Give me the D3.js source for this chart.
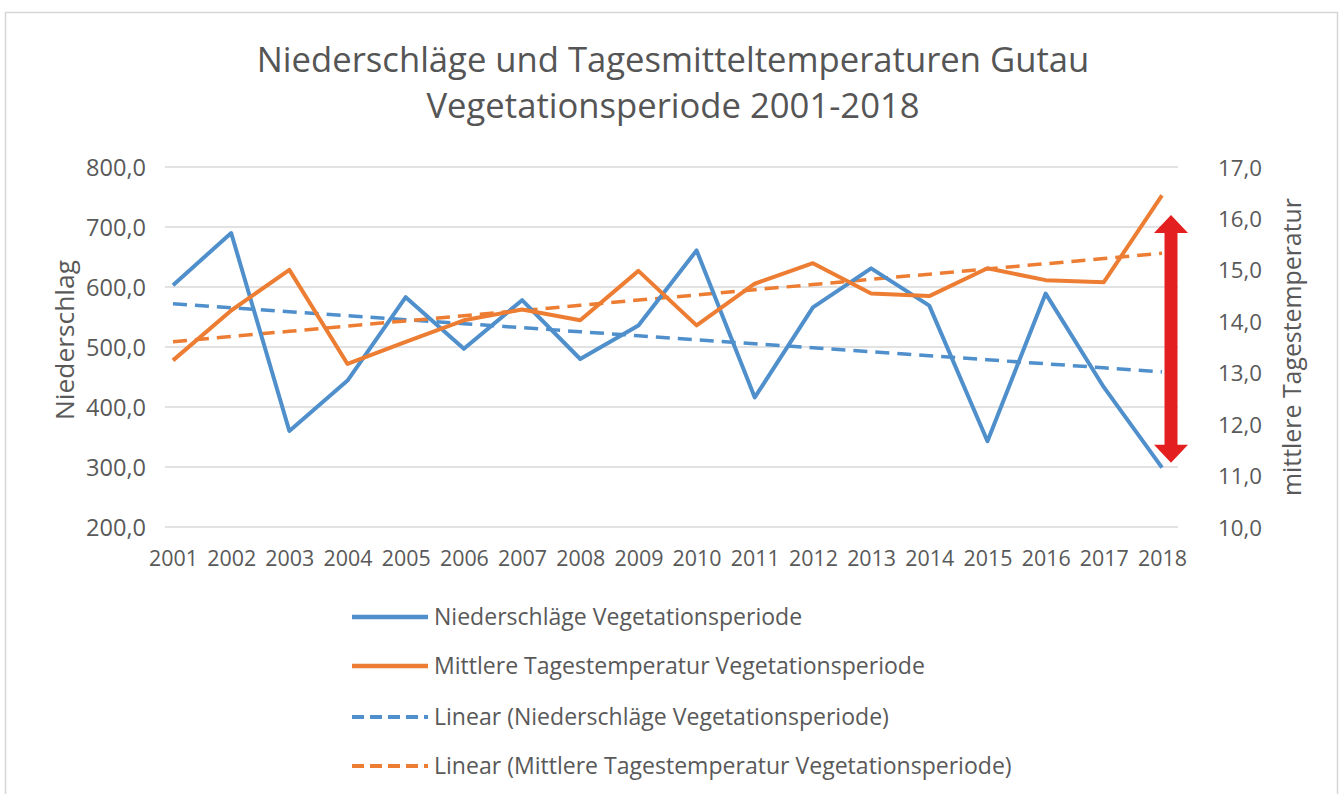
<!DOCTYPE html>
<html><head><meta charset="utf-8">
<script src="https://cdn.jsdelivr.net/npm/d3@7"></script>
<style>
html,body{margin:0;padding:0;background:#fff;}
svg{display:block;}
svg text{font-family:"Open Sans",Lato,sans-serif;}
</style></head>
<body><svg id="c" width="1343" height="794"></svg>
<script>
const years = ["2001","2002","2003","2004","2005","2006","2007","2008","2009","2010","2011","2012","2013","2014","2015","2016","2017","2018"];
const niederschlag = [603,690,360,444,583,497,578,480,536,661,416,566,631,569,343,589,433,299];
const temperatur = [13.24,14.21,15.0,13.17,13.6,14.02,14.23,14.02,14.98,13.92,14.73,15.13,14.54,14.49,15.03,14.8,14.76,16.45];
const leftTicks = [200,300,400,500,600,700,800];
const rightTicks = [10,11,12,13,14,15,16,17];
const titleLines = ["Niederschläge und Tagesmitteltemperaturen Gutau","Vegetationsperiode 2001-2018"];
const leftTitle = "Niederschlag";
const rightTitle = "mittlere Tagestemperatur";
const legendLabels = ["Niederschläge Vegetationsperiode","Mittlere Tagestemperatur Vegetationsperiode","Linear (Niederschläge Vegetationsperiode)","Linear (Mittlere Tagestemperatur Vegetationsperiode)"];
const arrowRange = [307, 720]; // annotation arrow in Niederschlag units

const BLUE="#4f8fcb", ORANGE="#ec7d33", GRID="#d9d9d9", TXT="#595959";
const svg = d3.select("#c");
const fmt = v => d3.format(".1f")(v).replace(".",",");

// size a text selection so that a reference element reaches the target width
function fit(sel, refNode, target){
  sel.style("font-size","20px");
  const w = refNode.getComputedTextLength();
  sel.style("font-size",(20*target/w)+"px");
}

svg.append("rect").attr("x",5.5).attr("y",12.5).attr("width",1332).attr("height",790)
  .attr("fill","#fff").attr("stroke","#d6d6d6").attr("stroke-width",1.5);

const x = d3.scalePoint().domain(years).range([173,1162]);
const yL = d3.scaleLinear().domain([200,800]).range([527,167]);
const yR = d3.scaleLinear().domain([10,17]).range([527,167]);

svg.append("g").selectAll("line").data(leftTicks).join("line")
  .attr("x1",165).attr("x2",1178).attr("y1",d=>yL(d)).attr("y2",d=>yL(d))
  .attr("stroke",GRID).attr("stroke-width",1.6);

const ga = d3.axisLeft(yL).tickValues(leftTicks).tickFormat(fmt).tickSize(0).tickPadding(0);
const gl = svg.append("g").attr("transform","translate(146,0)").call(ga);
gl.attr("font-family",null).attr("font-size",null);
gl.select(".domain").remove();
const glt = gl.selectAll("text").attr("fill",TXT).attr("dy","0.36em");
fit(glt, glt.nodes()[glt.size()-1], 60);

const ar = d3.axisRight(yR).tickValues(rightTicks).tickFormat(fmt).tickSize(0).tickPadding(0);
const gr = svg.append("g").attr("transform","translate(1218,0)").call(ar);
gr.attr("font-family",null).attr("font-size",null);
gr.select(".domain").remove();
const grt = gr.selectAll("text").attr("fill",TXT).attr("dy","0.36em");
fit(grt, grt.nodes()[grt.size()-1], 44);

const ab = d3.axisBottom(x).tickSize(0).tickPadding(0);
const gb = svg.append("g").attr("transform","translate(0,558)").call(ab);
gb.attr("font-family",null).attr("font-size",null);
gb.select(".domain").remove();
const gbt = gb.selectAll("text").attr("fill",TXT).attr("y",0).attr("dy","0.36em");
fit(gbt, gbt.nodes()[0], 49);

const lt = svg.append("text").attr("transform","translate(74,340) rotate(-90)").attr("text-anchor","middle")
  .attr("fill",TXT).text(leftTitle);
fit(lt, lt.node(), 160);
const rt = svg.append("text").attr("transform","translate(1301,347) rotate(-90)").attr("text-anchor","middle")
  .attr("fill",TXT).text(rightTitle);
fit(rt, rt.node(), 298);

const tt = svg.append("g").selectAll("text").data(titleLines).join("text")
  .attr("x",673).attr("y",(d,i)=>[72,118][i]).attr("text-anchor","middle")
  .attr("fill","#555").text(d=>d);
fit(tt, tt.nodes()[0], 833);

function reg(vals){
  const n=vals.length, xs=d3.range(n);
  const mx=d3.mean(xs), my=d3.mean(vals);
  const b=d3.sum(xs,(v,i)=>(v-mx)*(vals[i]-my))/d3.sum(xs,v=>(v-mx)*(v-mx));
  const a=my-b*mx;
  return xs.map(i=>a+b*i);
}
const lineL = d3.line().x((d,i)=>x(years[i])).y(d=>yL(d));
const lineR = d3.line().x((d,i)=>x(years[i])).y(d=>yR(d));

svg.append("path").attr("d",lineL(reg(niederschlag))).attr("fill","none").attr("stroke",BLUE)
  .attr("stroke-width",3.5).attr("stroke-dasharray","14,8");
svg.append("path").attr("d",lineR(reg(temperatur))).attr("fill","none").attr("stroke",ORANGE)
  .attr("stroke-width",3.5).attr("stroke-dasharray","14,8");
svg.append("path").attr("d",lineL(niederschlag)).attr("fill","none").attr("stroke",BLUE)
  .attr("stroke-width",4).attr("stroke-linejoin","round");
svg.append("path").attr("d",lineR(temperatur)).attr("fill","none").attr("stroke",ORANGE)
  .attr("stroke-width",4).attr("stroke-linejoin","round");

(function(){
  const cx = x(years[years.length-1]) + 9;
  const yt = yL(arrowRange[1]), yb = yL(arrowRange[0]);
  const hw = 17, sw = 6.5, hh = 18;
  const p = d3.path();
  p.moveTo(cx,yt); p.lineTo(cx+hw,yt+hh); p.lineTo(cx+sw,yt+hh); p.lineTo(cx+sw,yb-hh);
  p.lineTo(cx+hw,yb-hh); p.lineTo(cx,yb); p.lineTo(cx-hw,yb-hh); p.lineTo(cx-sw,yb-hh);
  p.lineTo(cx-sw,yt+hh); p.lineTo(cx-hw,yt+hh); p.closePath();
  svg.append("path").attr("d",p.toString()).attr("fill","#e3201f");
})();

const colors=[BLUE,ORANGE,BLUE,ORANGE], dashed=[false,false,true,true];
const ly=[617,666,717,766];
const lg = svg.append("g").selectAll("g").data(legendLabels).join("g");
lg.append("line").attr("x1",352).attr("x2",428).attr("y1",(d,i)=>ly[i]).attr("y2",(d,i)=>ly[i])
  .attr("stroke",(d,i)=>colors[i]).attr("stroke-width",(d,i)=>dashed[i]?4:4.5)
  .attr("stroke-dasharray",(d,i)=>dashed[i]?"12,6":null);
const lgt = lg.append("text").attr("x",434).attr("y",(d,i)=>ly[i]).attr("dy","0.36em").attr("fill",TXT)
  .text(d=>d);
fit(lgt, lgt.nodes()[3], 578);
</script></body></html>
